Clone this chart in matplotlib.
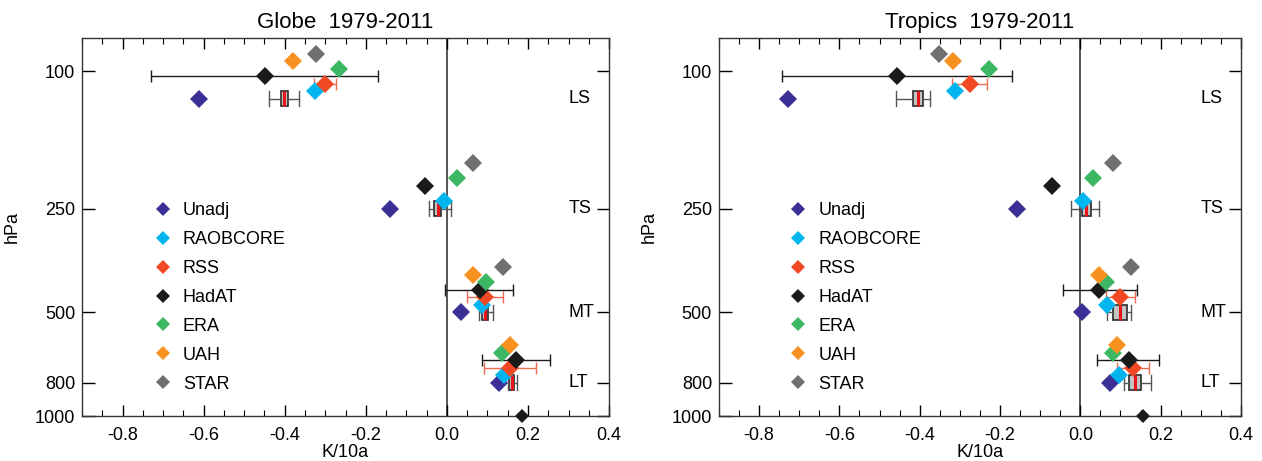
import numpy as np
import matplotlib
matplotlib.use("Agg")
import matplotlib.pyplot as plt
from matplotlib.lines import Line2D

plt.rcParams['font.family'] = ['Liberation Sans', 'DejaVu Sans']

# ---------------- data ----------------
datasets = ["Unadj", "RAOBCORE", "RSS", "HadAT", "ERA", "UAH", "STAR"]
colors = ["#3b2f95", "#00b4ef", "#f04923", "#1a1a1a", "#3cb763", "#f7901e", "#6f6f70"]
layers = ["LS", "TS", "MT", "LT"]
layer_p = [120, 250, 500, 800]          # hPa
nan = np.nan

titles = ["Globe  1979-2011", "Tropics  1979-2011"]

# trends per dataset, per layer [LS, TS, MT, LT]
globe = {
    "Unadj":    [-0.612, -0.141, 0.035, 0.128],
    "RAOBCORE": [-0.326, -0.007, 0.086, 0.141],
    "RSS":      [-0.301,  nan,   0.094, 0.156],
    "HadAT":    [-0.449, -0.054, 0.081, 0.170],
    "ERA":      [-0.265,  0.025, 0.096, 0.136],
    "UAH":      [-0.380,  nan,   0.064, 0.156],
    "STAR":     [-0.323,  0.064, 0.138, nan],
}
tropics = {
    "Unadj":    [-0.728, -0.157, 0.005, 0.075],
    "RAOBCORE": [-0.312,  0.007, 0.067, 0.097],
    "RSS":      [-0.274,  nan,   0.100, 0.132],
    "HadAT":    [-0.456, -0.070, 0.047, 0.120],
    "ERA":      [-0.227,  0.032, 0.065, 0.082],
    "UAH":      [-0.317,  nan,   0.047, 0.092],
    "STAR":     [-0.352,  0.082, 0.127, nan],
}
# error ranges (low, high) per layer
globe_hadat_err = [(-0.731, -0.170), None, (-0.005, 0.163), (0.086, 0.254)]
globe_rss_err = [(-0.328, -0.274), None, (0.049, 0.138), (0.091, 0.220)]
tropics_hadat_err = [(-0.743, -0.170), None, (-0.042, 0.140), (0.042, 0.197)]
tropics_rss_err = [(-0.319, -0.232), None, (0.065, 0.137), (0.092, 0.172)]

# ensemble boxes (whislo, q1, med, q3, whishi) per layer
globe_box = [(-0.439, -0.410, -0.402, -0.393, -0.366),
             (-0.044, -0.032, -0.022, -0.015, 0.010),
             (0.079, 0.086, 0.094, 0.101, 0.114),
             (0.150, 0.154, 0.160, 0.165, 0.174)]
tropics_box = [(-0.459, -0.416, -0.404, -0.392, -0.374),
               (-0.022, 0.005, 0.015, 0.027, 0.047),
               (0.067, 0.082, 0.100, 0.117, 0.127),
               (0.110, 0.120, 0.135, 0.150, 0.175)]
surface_p = 1000
globe_surface = 0.185
tropics_surface = 0.157

panels = [
    (titles[0], globe, globe_hadat_err, globe_rss_err, globe_box, globe_surface),
    (titles[1], tropics, tropics_hadat_err, tropics_rss_err, tropics_box, tropics_surface),
]

# ---------------- layout / style ----------------
STEP = 0.0218  # log10 offset between stacked datasets
order_offset = {d: i for i, d in enumerate(datasets)}  # Unadj 0 ... STAR 6

fig = plt.figure(figsize=(12.62, 4.61), dpi=100)
ax_rects = [[0.065, 0.0976, 0.4176, 0.82], [0.5697, 0.0976, 0.4136, 0.82]]
legend_anchor = [(0.123, 0.585), (0.121, 0.585)]

for rect, anchor, (title, data, had_err, rss_err, boxes, surf) in zip(ax_rects, legend_anchor, panels):
    ax = fig.add_axes(rect)
    ax.set_yscale('log')
    ax.axvline(0, color='#3a3a3a', lw=1.2, zorder=1)

    # boxes
    stats = []
    for b in boxes:
        lo, q1, med, q3, hi = b
        stats.append(dict(whislo=lo, q1=q1, med=med, q3=q3, whishi=hi, fliers=[]))
    widths = [p * (10**STEP - 10**-STEP) for p in layer_p]
    ax.bxp(stats, positions=layer_p, widths=widths, capwidths=widths,
           orientation='horizontal', patch_artist=True, showfliers=False,
           boxprops=dict(facecolor='#c4c4c4', edgecolor='#2a2a2a', lw=1.2),
           medianprops=dict(color='#e8141b', lw=2.2),
           whiskerprops=dict(color='#555555', lw=1.0),
           capprops=dict(color='#555555', lw=1.0),
           manage_ticks=False, zorder=2)

    handles = []
    for d, c in zip(datasets, colors):
        k = order_offset[d]
        ys = [p * 10**(-k * STEP) for p in layer_p]
        vals = data[d]
        if d == "HadAT":
            for y, e in zip(ys, had_err):
                if e is not None:
                    ax.errorbar([(e[0] + e[1]) / 2], [y], xerr=[[(e[1] - e[0]) / 2]],
                                fmt='none', ecolor='#1a1a1a', elinewidth=1.0,
                                capsize=4, capthick=1.0, zorder=3)
        if d == "RSS":
            for y, e in zip(ys, rss_err):
                if e is not None:
                    ax.errorbar([(e[0] + e[1]) / 2], [y], xerr=[[(e[1] - e[0]) / 2]],
                                fmt='none', ecolor='#f26a4f', elinewidth=1.0,
                                capsize=4, capthick=1.0, zorder=3)
        ax.plot(vals, ys, 'D', color=c, ms=9.2, mec=c, mew=0, zorder=4, clip_on=False)
        handles.append(Line2D([], [], marker='D', ls='none', color=c, mew=0, ms=7.5, label=d))

    ax.plot([surf], [surface_p], 'D', color='#1a1a1a', ms=7.5, mew=0, zorder=5, clip_on=False)

    for lab, p in zip(layers, layer_p):
        ax.text(0.3, p, lab, fontsize=13, ha='left', va='center')

    ax.set_xlim(-0.9, 0.4)
    ax.set_ylim(1000, 80)
    ax.set_xticks(np.arange(-0.8, 0.41, 0.2))
    ax.set_xticklabels(["-0.8", "-0.6", "-0.4", "-0.2", "0.0", "0.2", "0.4"])
    ax.set_xticks(np.arange(-0.9, 0.401, 0.05), minor=True)
    ax.set_yticks([100, 250, 500, 800, 1000])
    ax.set_yticklabels(["100", "250", "500", "800", "1000"])
    ax.yaxis.set_minor_locator(matplotlib.ticker.NullLocator())
    ax.tick_params(axis='x', which='major', direction='in', length=8, width=1,
                   top=True, labelsize=13, pad=8)
    ax.tick_params(axis='x', which='minor', direction='in', length=4, width=0.8, top=True)
    ax.tick_params(axis='y', which='major', direction='in', length=9, width=1,
                   right=True, labelsize=13, pad=5)
    for s in ax.spines.values():
        s.set_linewidth(1.0)
        s.set_color('#333333')
    ax.set_xlabel("K/10a", fontsize=13, labelpad=0)
    ax.set_ylabel("hPa", fontsize=13, labelpad=10)
    ax.set_title(title, fontsize=16, pad=7)

    ax.legend(handles=handles, loc='upper left', bbox_to_anchor=anchor,
              frameon=False, fontsize=13, handletextpad=0.6, labelspacing=0.66,
              handlelength=1.0, borderaxespad=0)

fig.savefig("out.png", dpi=100)
